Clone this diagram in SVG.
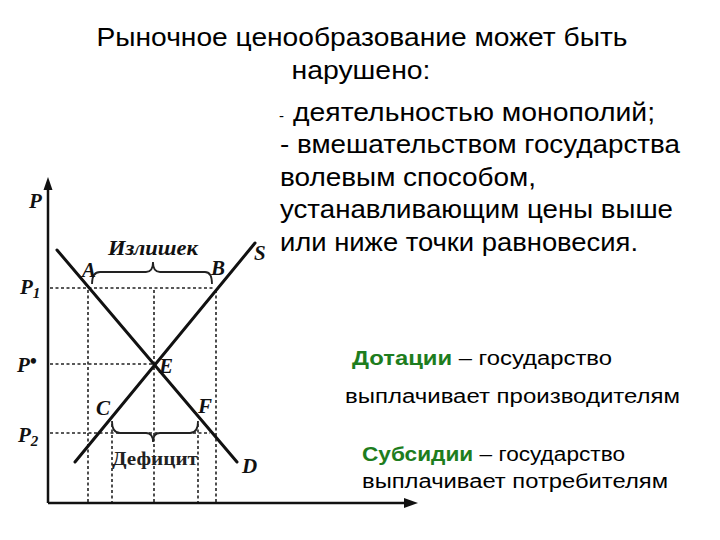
<svg xmlns="http://www.w3.org/2000/svg" width="720" height="540" viewBox="0 0 720 540">
<style>
.t{font-family:"Liberation Sans",Arial,sans-serif;fill:#000}
.g{font-weight:bold;fill:#1e7d1e}
.lab{font-family:"Liberation Serif","Times New Roman",serif;font-style:italic;font-weight:bold;font-size:21px;fill:#111}
.word{font-family:"Liberation Serif","Times New Roman",serif;font-weight:bold;font-size:19px;fill:#222}
.ax{stroke:#111;stroke-width:2.5;fill:none}
.crv{stroke:#111;stroke-width:3;fill:none;stroke-linecap:round}
.dash{stroke:#222;stroke-width:1.6;stroke-dasharray:3 2.5;fill:none}
.br{stroke:#222;stroke-width:1.8;fill:none}
</style>
<rect width="720" height="540" fill="#fff"/>
<g id="title">
<text class="t" x="362" y="46" font-size="25" text-anchor="middle" textLength="531" lengthAdjust="spacingAndGlyphs">Рыночное ценообразование может быть</text>
<text class="t" x="361" y="79" font-size="25" text-anchor="middle" textLength="139" lengthAdjust="spacingAndGlyphs">нарушено:</text>
</g>
<g id="causes">
<text class="t" x="279" y="121" font-size="15">-</text>
<text class="t" x="293" y="121" font-size="25" textLength="362" lengthAdjust="spacingAndGlyphs">деятельностью монополий;</text>
<text class="t" x="280" y="153" font-size="25" textLength="400" lengthAdjust="spacingAndGlyphs">- вмешательством государства</text>
<text class="t" x="280" y="186" font-size="25" textLength="256" lengthAdjust="spacingAndGlyphs">волевым способом,</text>
<text class="t" x="280" y="218" font-size="25" textLength="393" lengthAdjust="spacingAndGlyphs">устанавливающим цены выше</text>
<text class="t" x="280" y="251" font-size="25" textLength="358" lengthAdjust="spacingAndGlyphs">или ниже точки равновесия.</text>
</g>
<g id="dotacii">
<text class="t" x="352" y="365" font-size="20" textLength="260" lengthAdjust="spacingAndGlyphs"><tspan class="g">Дотации</tspan> – государство</text>
<text class="t" x="345" y="403" font-size="20" textLength="335" lengthAdjust="spacingAndGlyphs">выплачивает производителям</text>
</g>
<g id="subsidii">
<text class="t" x="362" y="461" font-size="20" textLength="263" lengthAdjust="spacingAndGlyphs"><tspan class="g">Субсидии</tspan> – государство</text>
<text class="t" x="362" y="488" font-size="20" textLength="306" lengthAdjust="spacingAndGlyphs">выплачивает потребителям</text>
</g>
<g id="graph">
<g id="axes">
<line class="ax" x1="48" y1="503" x2="48" y2="188"/>
<polygon points="48,177 43.5,190 52.5,190" fill="#111"/>
<line class="ax" x1="48" y1="503" x2="406" y2="503"/>
<polygon points="418,503 404,498 404,508" fill="#111"/>
</g>
<g id="guides">
<line class="dash" x1="50" y1="288" x2="214" y2="288"/>
<line class="dash" x1="50" y1="364" x2="152" y2="364"/>
<line class="dash" x1="50" y1="433" x2="210" y2="433"/>
<line class="dash" x1="88" y1="290" x2="88" y2="502"/>
<line class="dash" x1="216" y1="290" x2="216" y2="502"/>
<line class="dash" x1="154" y1="290" x2="154" y2="502"/>
<line class="dash" x1="112" y1="424" x2="112" y2="502"/>
<line class="dash" x1="198" y1="424" x2="198" y2="502"/>
</g>
<g id="curves">
<line id="D" class="crv" x1="57" y1="250" x2="237" y2="462"/>
<line id="S" class="crv" x1="75" y1="462" x2="255" y2="243"/>
</g>
<g id="braces">
<path class="br" d="M92,284 Q92,272 100,272 L146,272 Q153,272 153,262 Q153,272 160,272 L205,272 Q212,272 212,284"/>
<path class="br" d="M112,421 Q112,433 120,433 L146,433 Q153,433 153,442 Q153,433 160,433 L190,433 Q198,433 198,421"/>
</g>
<g id="labels">
<text class="lab" x="29" y="208">P</text>
<text class="lab" x="20" y="294">P<tspan font-size="15" dy="4">1</tspan></text>
<text class="lab" x="17" y="372">P<tspan font-size="20" dy="-4">•</tspan></text>
<text class="lab" x="18" y="442">P<tspan font-size="15" dy="4">2</tspan></text>
<text class="lab" x="82" y="277">A</text>
<text class="lab" x="211" y="275">B</text>
<text class="lab" x="254" y="260">S</text>
<text class="lab" x="159" y="373">E</text>
<text class="lab" x="96" y="415">C</text>
<text class="lab" x="198" y="413">F</text>
<text class="lab" x="242" y="473">D</text>
<text class="lab" x="153" y="255" text-anchor="middle" textLength="90" lengthAdjust="spacingAndGlyphs">Излишек</text>
<text class="word" x="155" y="465" text-anchor="middle" textLength="86" lengthAdjust="spacingAndGlyphs">Дефицит</text>
</g>
</g>
</svg>
